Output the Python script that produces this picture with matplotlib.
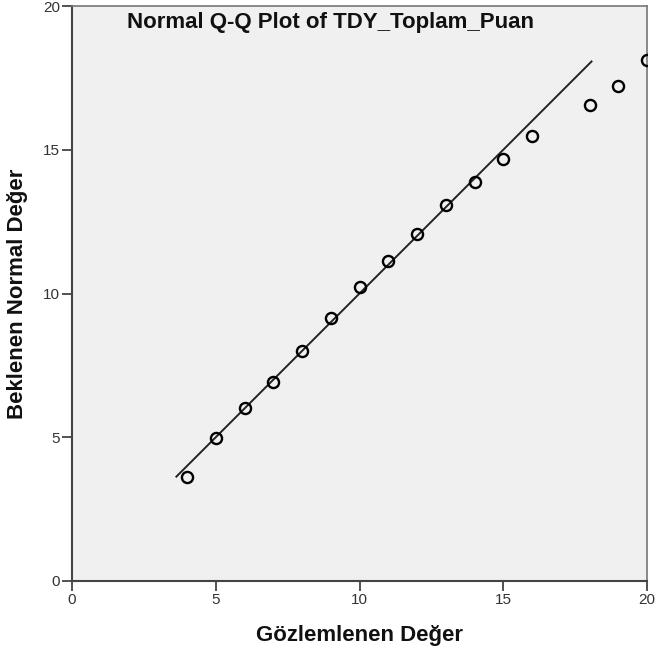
import numpy as np
import matplotlib.pyplot as plt

plt.rcParams['font.family'] = ['Liberation Sans', 'DejaVu Sans']

# observed values and expected normal values
observed = [4, 5, 6, 7, 8, 9, 10, 11, 12, 13, 14, 15, 16, 18, 19, 20]
expected = [3.63, 4.96, 6.02, 6.93, 8.01, 9.15, 10.23, 11.14, 12.07,
            13.09, 13.87, 14.69, 15.47, 16.56, 17.23, 18.12]

# reference line endpoints
line_x = [3.63, 18.07]
line_y = [3.63, 18.07]

ticks = [0, 5, 10, 15, 20]


def main():
    fig = plt.figure(figsize=(6.57, 6.55), dpi=100)
    ax = fig.add_axes([72 / 657, 74 / 655, 575 / 657, 575 / 655])
    ax.set_facecolor('#f0f0f0')

    ax.plot(line_x, line_y, color='#222222', lw=1.4, zorder=2)
    ax.plot(observed, expected, 'o', mfc='none', mec='black', ms=8,
            mew=1.7, zorder=3, clip_on=True)

    ax.set_xlim(0, 20)
    ax.set_ylim(0, 20)
    ax.set_xticks(ticks)
    ax.set_yticks(ticks)
    ax.tick_params(direction='out', length=7, width=1.3, color='#444444',
                   labelsize=11, labelcolor='#333333', pad=1.5)

    for side in ['left', 'bottom']:
        ax.spines[side].set_color('#444444')
        ax.spines[side].set_linewidth(1.5)
    for side in ['top', 'right']:
        ax.spines[side].set_color('#777777')
        ax.spines[side].set_linewidth(1.2)

    ax.text(0.449, 0.99, 'Normal Q-Q Plot of TDY_Toplam_Puan',
            transform=ax.transAxes, ha='center', va='top',
            fontsize=16, fontweight='bold', color='#111111')
    ax.set_xlabel('Gözlemlenen Değer', fontsize=16, fontweight='bold',
                  labelpad=13, color='#111111')
    ax.set_ylabel('Beklenen Normal Değer', fontsize=16, fontweight='bold',
                  labelpad=11, color='#111111')

    fig.savefig('out.png', dpi=100)
    return 0


if __name__ == '__main__':
    main()
